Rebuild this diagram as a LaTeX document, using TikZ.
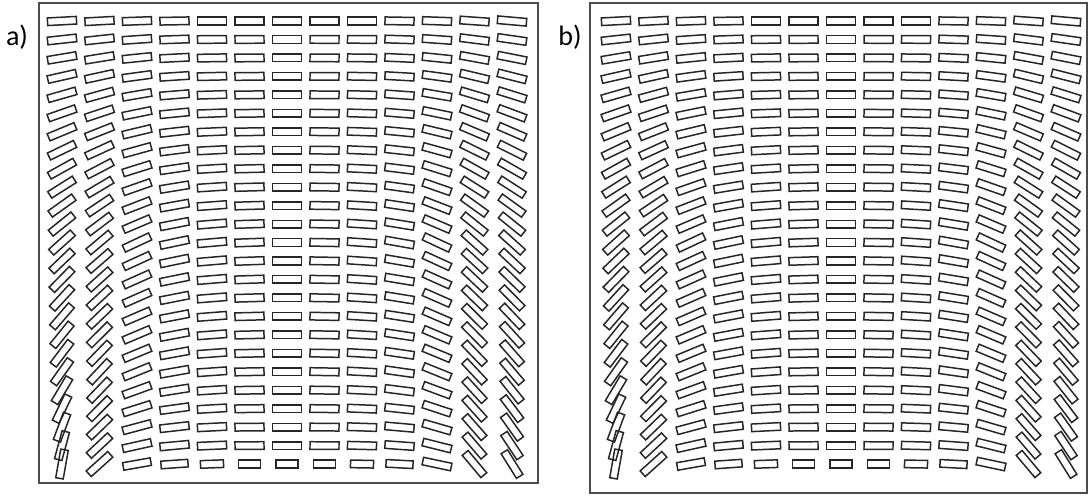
\documentclass[tikz,border=0pt]{standalone}
\usepackage{fontspec}
\newfontfamily\labelfont{Carlito}
\newcommand{\lcrod}[4]{\draw[rod, shift={(#1,#2)}, rotate=#3] (-0.5*#4,-3.8) rectangle (0.5*#4,3.8);}

\begin{document}
\begin{tikzpicture}[x=0.02cm, y=0.02cm,
  rod/.style={draw=black!85, line width=0.85pt},
  frame/.style={draw=black!70, line width=1.1pt},
  panellabel/.style={font=\labelfont\fontsize{16}{16}\selectfont, inner sep=0pt}]
  \useasboundingbox (0,0) rectangle (1089,495);
  \draw[frame] (39,492) rectangle (538,12);
  \draw[frame] (590,492) rectangle (1087,2);
  \node[panellabel] (la) at (17,458) {a)};
  \node[panellabel] (lb) at (570,458) {b)};
  % column / tilt at top, middle, 0.8, bottom / length of bottom rod
  \foreach \xs in {62,616} {
    \foreach \i/\ta/\tb/\tc/\td/\lb in {0/3/42/55/80/29, 1/3/40/47/42/29,
        2/2/25/22/10/28, 3/1/12/10/4/27, 4/0/5/4/2/23, 5/0/2/1/0/22,
        6/0/0/0/0/22, 7/0/-1/-1/0/22, 8/0/-4/-3/-1/23, 9/-1/-10/-8/-3/27,
        10/-2/-25/-22/-12/29, 11/-4/-42/-47/-50/29, 12/-5/-42/-50/-58/29} {
      \foreach \j in {0,...,24} {
        \pgfmathsetmacro\v{\j/24}
        \pgfmathsetmacro\ang{\v<0.5 ? (\ta)+((\tb)-(\ta))*\v/0.5 : (\v<0.8 ? (\tb)+((\tc)-(\tb))*(\v-0.5)/0.3 : (\tc)+((\td)-(\tc))*(\v-0.8)/0.2)}
        \pgfmathsetmacro\len{\j==24 ? \lb : 29}
        \lcrod{\xs+37.5*\i}{474-18.46*\j}{\ang}{\len}
      }
    }
  }
\end{tikzpicture}
\end{document}
